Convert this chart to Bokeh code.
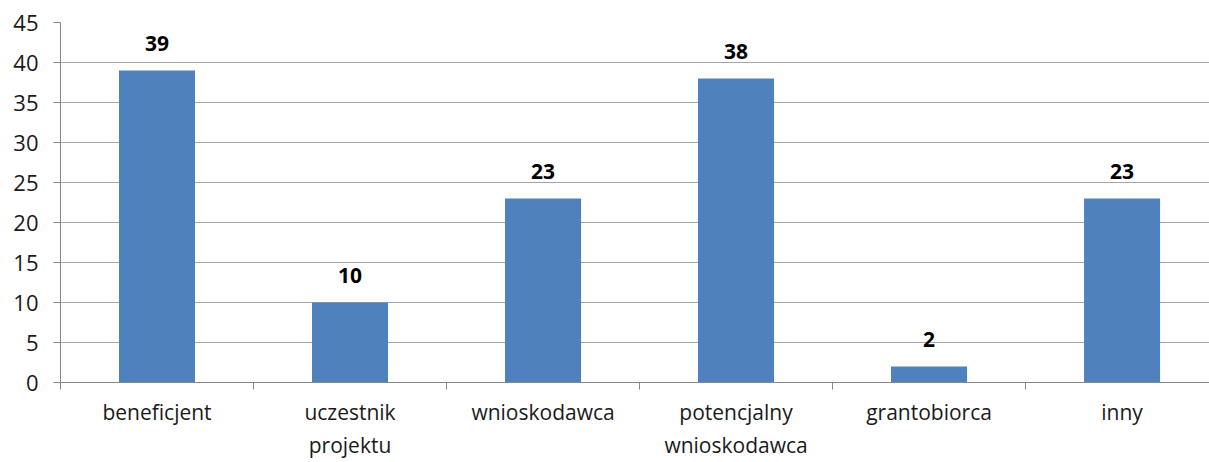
from bokeh.plotting import figure
from bokeh.models import ColumnDataSource, Range1d, FixedTicker, LabelSet
from bokeh.core.properties import value
from bokeh.embed import file_html
from bokeh.resources import INLINE

categories = ["beneficjent", "uczestnik\nprojektu", "wnioskodawca",
              "potencjalny\nwnioskodawca", "grantobiorca", "inny"]
values = [39, 10, 23, 38, 2, 23]
y_ticks = [0, 5, 10, 15, 20, 25, 30, 35, 40, 45]

FONT = "Open Sans"
xs = [i + 0.5 for i in range(len(categories))]
src = ColumnDataSource(dict(x=xs, top=values, lab=[str(v) for v in values]))

p = figure(width=1209, height=462, output_backend="svg", toolbar_location=None,
           x_range=Range1d(0, 5.953), y_range=Range1d(0, 45),
           min_border_left=60, min_border_right=0, min_border_top=22, min_border_bottom=78)
p.outline_line_color = None
p.background_fill_color = "white"

p.vbar(x="x", top="top", width=0.394, source=src, fill_color="#4F81BD", line_color=None)

labels = LabelSet(x="x", y="top", text="lab", source=src, text_align="center",
                  text_baseline="alphabetic", y_offset=20, text_font=value(FONT),
                  text_font_style="bold", text_font_size="21px", text_color="black")
p.add_layout(labels)

# y axis
p.yaxis.ticker = FixedTicker(ticks=y_ticks)
p.yaxis.axis_line_color = "#868686"
p.yaxis.major_tick_line_color = "#868686"
p.yaxis.major_tick_out = 7
p.yaxis.major_tick_in = 0
p.yaxis.minor_tick_line_color = None
p.yaxis.major_label_text_font = FONT
p.yaxis.major_label_text_font_size = "22px"
p.yaxis.major_label_text_color = "#1a1a1a"
p.yaxis.major_label_standoff = 15

# x axis
p.xaxis.ticker = FixedTicker(ticks=xs, minor_ticks=list(range(len(categories) + 1)))
p.xaxis.major_label_overrides = {x: c for x, c in zip(xs, categories)}
p.xaxis.axis_line_color = "#868686"
p.xaxis.major_tick_line_color = None
p.xaxis.major_tick_out = 0
p.xaxis.major_tick_in = 0
p.xaxis.minor_tick_line_color = "#868686"
p.xaxis.minor_tick_out = 7
p.xaxis.minor_tick_in = 0
p.xaxis.major_label_text_font = FONT
p.xaxis.major_label_text_font_size = "21px"
p.xaxis.major_label_text_color = "#1a1a1a"
p.xaxis.major_label_standoff = 8

p.xgrid.grid_line_color = None
p.ygrid.ticker = FixedTicker(ticks=y_ticks)
p.ygrid.grid_line_color = "#A6A6A6"
p.ygrid.grid_line_width = 1

open("out.html", "w").write(file_html(p, INLINE))
